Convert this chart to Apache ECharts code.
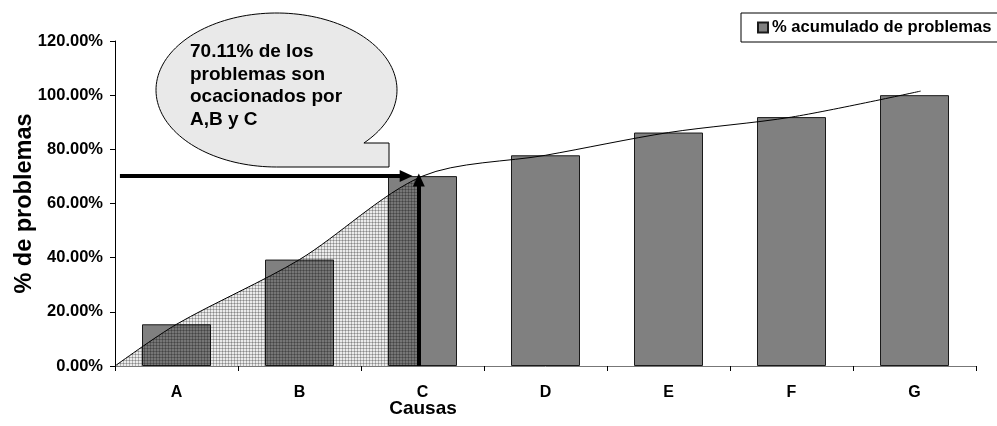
<!DOCTYPE html>
<html>
<head>
<meta charset="utf-8">
<script src="https://cdn.jsdelivr.net/npm/echarts@6/dist/echarts.min.js"></script>
<style>
html,body{margin:0;padding:0;background:#fff;}
#chart{width:997px;height:426px;}
</style>
</head>
<body>
<div id="chart"></div>
<script>
// ---- data ----
const categories = ['A', 'B', 'C', 'D', 'E', 'F', 'G'];
const cumulativePct = [15.4, 39.3, 70.11, 77.8, 86.2, 91.9, 100];
const yTickValues = [0, 20, 40, 60, 80, 100, 120];
// smoothed curve through the bar tops (x in category units, 0 = left edge)
const curveX = [0, 0.5, 1.5, 2.5, 3.5, 4.5, 5.5, 6.55];
const curveY = [0, 15.4, 39.3, 70.11, 77.8, 86.2, 91.9, 101.5];
const highlightValue = 70.11;
const highlightX = 2.47;      // where the vertical arrow / shading ends
const arrowStartX = 0.04;
const arrowTipX = 2.42;
const calloutLines = ['70.11% de los', 'problemas son', 'ocacionados por', 'A,B y C'];
const seriesName = '% acumulado de problemas';

// ---- layout ----
const W = 997, H = 426;
const plotLeft = 115, plotRight = 21, plotTop = 41, plotBottom = 60;
const plotWidth = W - plotLeft - plotRight;
const plotHeight = H - plotTop - plotBottom;
const FONT = '"Liberation Sans", Arial, sans-serif';
const arrowHead = 13;
const yMax = 120;
const pxPerX = plotWidth / categories.length;
const pxPerY = plotHeight / yMax;

const curveData = curveX.map((x, i) => [x, curveY[i]]);

// callout bubble outline: ellipse with a rectangular tail at bottom-right
const bub = {cx: 276.5, cy: 90, rx: 120.5, ry: 77, tailRight: 389, tailTop: 143};
const bubblePts = [];
{
  const s = (bub.tailTop - bub.cy) / bub.ry;
  const a0 = Math.atan2(s, Math.sqrt(Math.max(0, 1 - s * s)));
  const a1 = Math.PI / 2 - 2 * Math.PI;
  const n = 140;
  for (let i = 0; i <= n; i++) {
    const a = a0 + (a1 - a0) * i / n;
    bubblePts.push([bub.cx + bub.rx * Math.cos(a), bub.cy + bub.ry * Math.sin(a)]);
  }
  bubblePts.push([bub.tailRight, bub.cy + bub.ry]);
  bubblePts.push([bub.tailRight, bub.tailTop]);
}

// stipple pattern for the shaded area
const pat = document.createElement('canvas');
pat.width = 3; pat.height = 3;
const pc = pat.getContext('2d');
pc.fillStyle = 'rgba(0,0,0,0.08)';
pc.fillRect(0, 0, 3, 3);
pc.fillStyle = 'rgba(0,0,0,0.24)';
pc.fillRect(0, 0, 3, 1);
pc.fillRect(0, 0, 1, 3);

const chart = echarts.init(document.getElementById('chart'), null, {renderer: 'canvas'});

const option = {
  backgroundColor: '#fff',
  animation: false,
  textStyle: {fontFamily: FONT},
  legend: {
    data: [seriesName],
    left: 741, top: 13,
    orient: 'horizontal',
    padding: [6, 10, 6, 16],
    itemWidth: 10, itemHeight: 10, itemGap: 2,
    icon: 'rect',
    borderColor: '#000', borderWidth: 1,
    backgroundColor: '#fff',
    textStyle: {fontFamily: FONT, fontWeight: 'bold', fontSize: 16.6, color: '#000', padding: [0, 0, 0, -1]},
    selectedMode: false
  },
  grid: [
    {left: plotLeft, right: plotRight, top: plotTop, bottom: plotBottom, containLabel: false, outerBoundsMode: 'none'},
    {left: plotLeft, width: pxPerX * highlightX, top: plotTop, bottom: plotBottom, containLabel: false, outerBoundsMode: 'none'}
  ],
  xAxis: [
    {
      type: 'category', gridIndex: 0, data: categories, boundaryGap: true,
      axisLine: {show: true, lineStyle: {color: '#777', width: 1}},
      axisTick: {show: true, length: 5, lineStyle: {color: '#000'}},
      axisLabel: {fontFamily: FONT, fontWeight: 'bold', fontSize: 16, color: '#000', margin: 19},
      splitLine: {show: false},
      name: 'Causas', nameLocation: 'middle', nameGap: 33, nameMoveOverlap: false,
      nameTextStyle: {fontFamily: FONT, fontWeight: 'bold', fontSize: 19, color: '#000', padding: [0, 245, 0, 0]}
    },
    {type: 'value', gridIndex: 0, min: 0, max: categories.length, show: false},
    {type: 'value', gridIndex: 1, min: 0, max: highlightX, show: false}
  ],
  yAxis: [
    {
      type: 'value', gridIndex: 0, min: 0, max: yMax, interval: 20,
      axisLine: {show: true, lineStyle: {color: '#000', width: 1}},
      axisTick: {show: true, inside: false, length: 5, lineStyle: {color: '#000'}},
      axisLabel: {fontFamily: FONT, fontWeight: 'bold', fontSize: 16.5, color: '#000', margin: 12,
        formatter: v => yTickValues.includes(v) ? v.toFixed(2) + '%' : ''},
      splitLine: {show: false},
      name: '% de problemas', nameLocation: 'middle', nameGap: 78, nameRotate: 90, nameMoveOverlap: false,
      nameTextStyle: {fontFamily: FONT, fontWeight: 'bold', fontSize: 23.5, color: '#000'}
    },
    {type: 'value', gridIndex: 1, min: 0, max: yMax, show: false}
  ],
  series: [
    {
      name: seriesName, type: 'bar', xAxisIndex: 0, yAxisIndex: 0,
      data: cumulativePct, barWidth: 69, z: 2,
      itemStyle: {color: '#808080', borderColor: '#1a1a1a', borderWidth: 1},
      emphasis: {disabled: true}
    },
    {
      name: 'shade', type: 'line', xAxisIndex: 2, yAxisIndex: 1,
      data: curveData, smooth: 0.3, showSymbol: false, symbol: 'none', clip: true, z: 3,
      lineStyle: {width: 0, opacity: 0},
      areaStyle: {color: {image: pat, repeat: 'repeat'}, opacity: 1},
      emphasis: {disabled: true}, silent: true
    },
    {
      name: 'curve', type: 'line', xAxisIndex: 1, yAxisIndex: 0,
      data: curveData, smooth: 0.3, showSymbol: false, symbol: 'none', z: 4,
      lineStyle: {color: '#000', width: 1},
      emphasis: {disabled: true}, silent: true,
      markLine: {
        silent: true, animation: false,
        symbol: ['none', 'triangle'], symbolSize: [12, arrowHead],
        label: {show: false},
        lineStyle: {color: '#000', width: 4, type: 'solid'},
        emphasis: {disabled: true},
        data: [
          [{coord: [arrowStartX, highlightValue]}, {coord: [arrowTipX - (arrowHead / 2) / pxPerX, highlightValue]}],
          [{coord: [highlightX, 0]}, {coord: [highlightX, highlightValue + 1 - (arrowHead / 2) / pxPerY]}]
        ]
      }
    }
  ],
  graphic: [
    {
      type: 'polygon', z: 10,
      shape: {points: bubblePts},
      style: {fill: '#e9e9e9', stroke: '#000', lineWidth: 1}
    },
    {
      type: 'text', z: 11, left: 190, top: 41,
      style: {text: calloutLines.join('\n'), font: 'bold 19px ' + FONT, fill: '#000', lineHeight: 22.5}
    }
  ]
};
chart.setOption(option);
</script>
</body>
</html>
